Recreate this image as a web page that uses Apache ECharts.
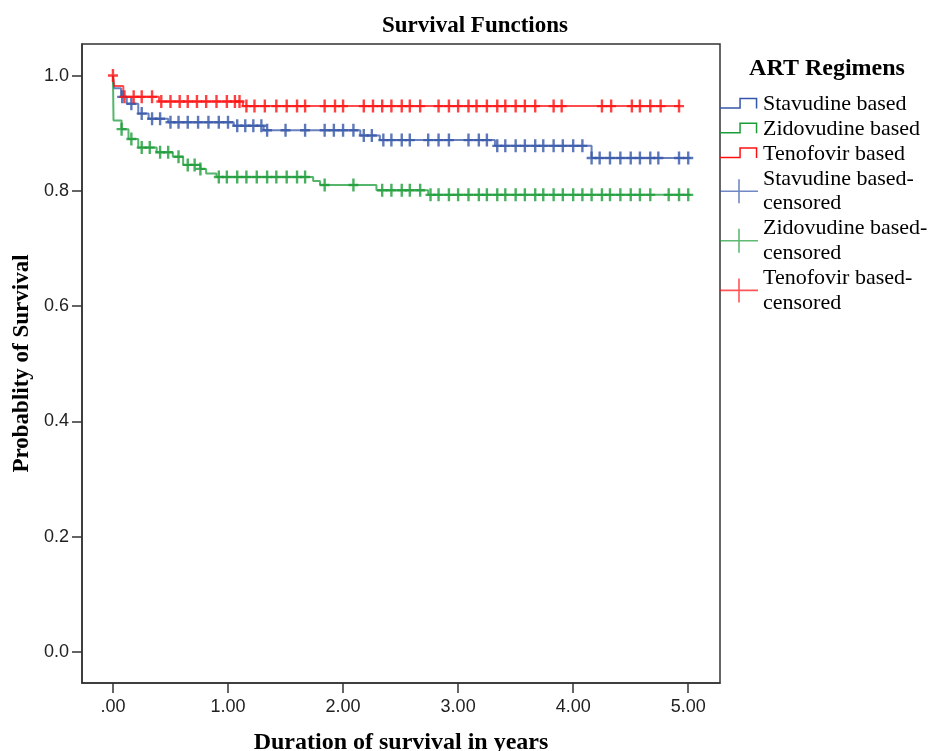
<!DOCTYPE html>
<html>
<head>
<meta charset="utf-8">
<title>Survival Functions</title>
<script src="https://cdn.jsdelivr.net/npm/echarts@6/dist/echarts.min.js"></script>
<style>
    html, body { margin: 0; padding: 0; background: #fff; }
    #chart { width: 929px; height: 751px; }
</style>
</head>
<body>
<div id="chart"></div>
<script>
    // tick values and labels
    var xTicks = [0, 1, 2, 3, 4, 5];
    var xTickLabels = ['.00', '1.00', '2.00', '3.00', '4.00', '5.00'];
    var yTicks = [0, 0.2, 0.4, 0.6, 0.8, 1.0];
    var yTickLabels = ['0.0', '0.2', '0.4', '0.6', '0.8', '1.0'];

    var groupNames = ['Stavudine based', 'Zidovudine based', 'Tenofovir based'];

    // Kaplan-Meier steps [years, survival]
    var stavudineSteps = [[0, 1], [0.01, 0.978], [0.07, 0.963], [0.12, 0.951], [0.22, 0.934], [0.31, 0.925],
        [0.48, 0.919], [1.05, 0.913], [1.31, 0.905], [2.15, 0.896], [2.32, 0.888], [3.32, 0.878],
        [4.16, 0.857], [5.02, 0.857]];
    var zidovudineSteps = [[0, 1], [0.005, 0.922], [0.075, 0.907], [0.135, 0.890], [0.22, 0.875], [0.38, 0.867],
        [0.52, 0.859], [0.61, 0.845], [0.76, 0.838], [0.81, 0.830], [0.90, 0.824], [1.74, 0.817],
        [1.80, 0.810], [2.29, 0.801], [2.74, 0.793], [5.02, 0.793]];
    var tenofovirSteps = [[0, 1], [0.01, 0.982], [0.09, 0.963], [0.40, 0.955], [1.13, 0.947], [4.93, 0.947]];

    // censored cases [years, survival]
    var stavudineCensored = [[0.08, 0.963], [0.16, 0.951], [0.25, 0.934], [0.34, 0.925], [0.41, 0.925],
        [0.50, 0.919], [0.57, 0.919], [0.65, 0.919], [0.74, 0.919], [0.83, 0.919], [0.92, 0.919], [1.00, 0.919],
        [1.08, 0.913], [1.15, 0.913], [1.22, 0.913], [1.29, 0.913],
        [1.34, 0.905], [1.50, 0.905], [1.67, 0.905], [1.84, 0.905], [1.92, 0.905], [2.00, 0.905], [2.09, 0.905],
        [2.18, 0.896], [2.25, 0.896],
        [2.35, 0.888], [2.42, 0.888], [2.51, 0.888], [2.58, 0.888], [2.74, 0.888], [2.83, 0.888], [2.92, 0.888],
        [3.09, 0.888], [3.18, 0.888], [3.25, 0.888],
        [3.34, 0.878], [3.41, 0.878], [3.50, 0.878], [3.58, 0.878], [3.67, 0.878], [3.74, 0.878], [3.83, 0.878],
        [3.91, 0.878], [4.00, 0.878], [4.08, 0.878],
        [4.16, 0.857], [4.23, 0.857], [4.32, 0.857], [4.41, 0.857], [4.50, 0.857], [4.58, 0.857], [4.67, 0.857],
        [4.74, 0.857], [4.92, 0.857], [5.00, 0.857]];
    var zidovudineCensored = [[0.075, 0.907], [0.16, 0.890], [0.25, 0.875], [0.32, 0.875], [0.41, 0.867], [0.48, 0.867],
        [0.57, 0.859], [0.65, 0.845], [0.71, 0.845], [0.76, 0.838],
        [0.92, 0.824], [0.99, 0.824], [1.08, 0.824], [1.16, 0.824], [1.25, 0.824], [1.34, 0.824], [1.42, 0.824],
        [1.51, 0.824], [1.60, 0.824], [1.67, 0.824],
        [1.84, 0.810], [2.09, 0.810],
        [2.34, 0.801], [2.42, 0.801], [2.51, 0.801], [2.58, 0.801], [2.67, 0.801],
        [2.76, 0.793], [2.83, 0.793], [2.92, 0.793], [3.00, 0.793], [3.09, 0.793], [3.18, 0.793], [3.25, 0.793],
        [3.34, 0.793], [3.41, 0.793], [3.50, 0.793], [3.58, 0.793], [3.67, 0.793], [3.74, 0.793], [3.83, 0.793],
        [3.91, 0.793], [4.00, 0.793], [4.08, 0.793], [4.16, 0.793], [4.25, 0.793], [4.32, 0.793], [4.41, 0.793],
        [4.50, 0.793], [4.58, 0.793], [4.67, 0.793], [4.83, 0.793], [4.92, 0.793], [5.00, 0.793]];
    var tenofovirCensored = [[0, 1], [0.10, 0.963], [0.18, 0.963], [0.25, 0.963], [0.34, 0.963],
        [0.42, 0.955], [0.50, 0.955], [0.58, 0.955], [0.65, 0.955], [0.73, 0.955], [0.81, 0.955], [0.90, 0.955],
        [0.99, 0.955], [1.06, 0.955], [1.10, 0.955],
        [1.16, 0.947], [1.23, 0.947], [1.32, 0.947], [1.42, 0.947], [1.51, 0.947], [1.60, 0.947], [1.67, 0.947],
        [1.84, 0.947], [1.93, 0.947], [2.00, 0.947], [2.18, 0.947], [2.26, 0.947], [2.34, 0.947], [2.42, 0.947],
        [2.51, 0.947], [2.58, 0.947], [2.67, 0.947], [2.83, 0.947], [2.92, 0.947], [3.00, 0.947], [3.09, 0.947],
        [3.16, 0.947], [3.25, 0.947], [3.34, 0.947], [3.41, 0.947], [3.50, 0.947], [3.58, 0.947], [3.67, 0.947],
        [3.83, 0.947], [3.90, 0.947], [4.25, 0.947], [4.33, 0.947], [4.51, 0.947], [4.58, 0.947], [4.67, 0.947],
        [4.76, 0.947], [4.92, 0.947]];

    var colors = ['#3556a8', '#1c9c38', '#ff1010'];

    var serif = '"Liberation Serif", "Times New Roman", serif';
    var sans = '"Liberation Sans", Arial, sans-serif';

    // legend icons (38x24 box; tiny corner specks keep the bounding box)
    var stepIcon = 'path://M0,0 L0.01,0 L0,0.01 Z M38,24 L37.99,24 L38,23.99 Z ' +
        'M0,14.8 L19.3,14.8 L19.3,5.3 L37.3,5.3 L37.3,16 L35.8,16 L35.8,6.8 L20.8,6.8 L20.8,16.3 L0,16.3 Z';
    var crossIcon = 'path://M0,11.2 L38,11.2 L38,12.8 L0,12.8 Z M18.2,0 L19.8,0 L19.8,24 L18.2,24 Z';
    var crossMark = 'path://M0,5.3 L10,5.3 L10,7.7 L0,7.7 Z M3.8,0 L6.2,0 L6.2,13 L3.8,13 Z';

    var chart = echarts.init(document.getElementById('chart'));

    var stepSets = [stavudineSteps, zidovudineSteps, tenofovirSteps];
    var censorSets = [stavudineCensored, zidovudineCensored, tenofovirCensored];

    var series = [];
    stepSets.forEach(function (d, i) {
        series.push({
            name: groupNames[i],
            type: 'line',
            step: 'end',
            showSymbol: false,
            z: 2 + i,
            color: colors[i],
            lineStyle: { width: 2, color: colors[i], opacity: 0.75 },
            data: d
        });
    });
    censorSets.forEach(function (d, i) {
        series.push({
            name: groupNames[i] + '-censored',
            type: 'scatter',
            symbol: crossMark,
            symbolSize: [10, 13],
            z: 6 + i,
            itemStyle: { color: colors[i] },
            data: d
        });
    });

    var legendData = [];
    groupNames.forEach(function (n) { legendData.push({ name: n, icon: stepIcon }); });
    groupNames.forEach(function (n) { legendData.push({ name: n + '-censored', icon: crossIcon, itemStyle: { opacity: 0.7 } }); });

    var option = {
        animation: false,
        backgroundColor: '#fff',
        title: [{
            text: 'Survival Functions',
            left: 475,
            top: 15,
            textAlign: 'center',
            padding: 0,
            textStyle: { fontFamily: serif, fontSize: 23, fontWeight: 'bold', color: '#000' }
        }, {
            text: 'ART Regimens',
            left: 827,
            top: 57,
            textAlign: 'center',
            padding: 0,
            textStyle: { fontFamily: serif, fontSize: 24, fontWeight: 'bold', color: '#000' }
        }],
        legend: {
            orient: 'vertical',
            left: 720,
            top: 92,
            padding: 0,
            itemGap: 0,
            itemWidth: 38,
            itemHeight: 24,
            selectedMode: false,
            itemStyle: { borderWidth: 0 },
            formatter: function (name) { return name.replace('-', '-\n'); },
            textStyle: { fontFamily: serif, fontSize: 22, lineHeight: 24.8, color: '#000', padding: [0, 0, 0, 0] },
            data: legendData
        },
        grid: {
            left: 82,
            right: 209,
            top: 44,
            bottom: 68,
            show: true,
            borderColor: '#333',
            borderWidth: 1.5,
            containLabel: false,
            outerBoundsMode: 'none'
        },
        xAxis: {
            type: 'value',
            min: -0.269,
            max: 5.276,
            name: 'Duration of survival in years',
            nameLocation: 'middle',
            nameGap: 48,
            nameTextStyle: { fontFamily: serif, fontSize: 24, fontWeight: 'bold', color: '#000' },
            splitLine: { show: false },
            axisLine: { show: true, onZero: false, lineStyle: { color: '#333', width: 1.5 } },
            axisTick: { show: true, length: 10, customValues: xTicks, lineStyle: { color: '#333', width: 1.5 } },
            axisLabel: {
                customValues: xTicks,
                margin: 15,
                fontFamily: sans,
                fontSize: 18,
                color: '#222',
                formatter: function (v) { return xTickLabels[xTicks.indexOf(v)]; }
            }
        },
        yAxis: {
            type: 'value',
            min: -0.0538,
            max: 1.0547,
            name: 'Probablity of Survival',
            nameLocation: 'middle',
            nameGap: 45,
            nameTextStyle: { fontFamily: serif, fontSize: 23, fontWeight: 'bold', color: '#000' },
            splitLine: { show: false },
            axisLine: { show: true, onZero: false, lineStyle: { color: '#333', width: 1.5 } },
            axisTick: { show: true, length: 10, customValues: yTicks, lineStyle: { color: '#333', width: 1.5 } },
            axisLabel: {
                customValues: yTicks,
                margin: 13,
                fontFamily: sans,
                fontSize: 18,
                color: '#222',
                formatter: function (v) {
                    var i = yTicks.findIndex(function (t) { return Math.abs(t - v) < 1e-6; });
                    return yTickLabels[i];
                }
            }
        },
        series: series
    };

    chart.setOption(option);
</script>
</body>
</html>
